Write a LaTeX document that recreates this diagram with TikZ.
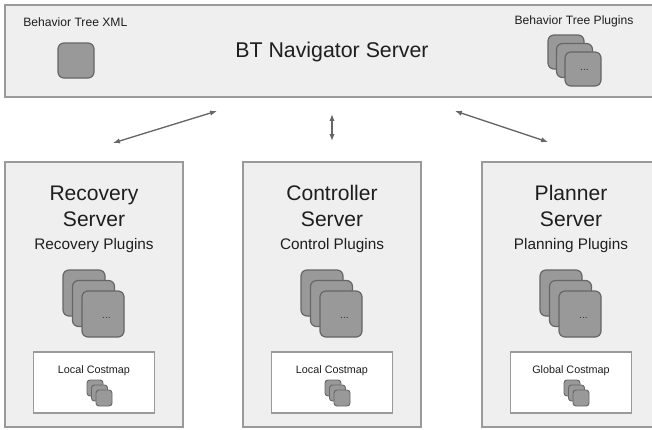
\documentclass[tikz,border=0pt]{standalone}
\usepackage{fontspec}
\setmainfont{Liberation Sans}
\usetikzlibrary{arrows.meta,fit}
\definecolor{panelfill}{HTML}{EFEFEF}
\definecolor{panelline}{HTML}{9A9A9A}
\definecolor{plugfill}{HTML}{999999}
\definecolor{plugline}{HTML}{666666}
\definecolor{arrowc}{HTML}{666666}
\definecolor{txt}{HTML}{1E1E1E}
\definecolor{dotc}{HTML}{333333}
\tikzset{
  panel/.style={draw=panelline, fill=panelfill, line width=0.8pt, inner sep=0pt},
  costbox/.style={draw=panelline, fill=white, line width=0.8pt, inner sep=0pt},
  plug/.style={draw=plugline, fill=plugfill, line width=0.9pt, rounded corners=4.5pt, inner sep=0pt},
  smallplug/.style={draw=plugline, fill=plugfill, line width=0.7pt, rounded corners=2.2pt, inner sep=0pt},
  dotlbl/.style={text=dotc, font=\fontsize{7.5}{8}\selectfont, inner sep=0pt},
  link/.style={draw=arrowc, line width=1pt, {Latex[length=5.2pt,width=4pt]}-{Latex[length=5.2pt,width=4pt]}},
  bigtitle/.style={text=txt, font=\fontsize{16}{19}\selectfont, inner sep=0pt},
  srvtitle/.style={text=txt, font=\fontsize{15.8}{19.5}\selectfont, align=center, inner sep=0pt},
  pluglbl/.style={text=txt, font=\fontsize{11.5}{13}\selectfont, inner sep=0pt},
  toplbl/.style={text=txt, font=\fontsize{9.1}{11}\selectfont, inner sep=0pt},
  costlbl/.style={text=txt, font=\fontsize{8.1}{10}\selectfont, inner sep=0pt},
}
% big plugin stack: prefix, top-left x, top-left y
\newcommand\mkbigstack[3]{%
  \foreach \i in {0,1,2}{%
    \node[plug, fit={({#2+\i*9.5},{#3+\i*10.5}) ({#2+\i*9.5+42},{#3+\i*10.5+46})}] (#1\i) {};
  }%
  \node[dotlbl] (#1dots) at ([shift={(25,28)}]#12.north west) {...};
}
% small plugin stack
\newcommand\mksmallstack[3]{%
  \foreach \i in {0,1,2}{%
    \node[smallplug, fit={({#2+\i*4.5},{#3+\i*5}) ({#2+\i*4.5+16},{#3+\i*5+16})}] (#1\i) {};
  }%
}
\begin{document}
\begin{tikzpicture}[x=0.75pt,y=-0.75pt]
\useasboundingbox (0,0) rectangle (652,429);
\clip (0,0) rectangle (652,429);

% top navigator panel
\node[panel, fit={(5,5) (662,97)}] (nav) {};
\node[toplbl, anchor=west] (xmllbl) at (23,22) {Behavior Tree XML};
\node[plug, fit={(58,43) (94,78)}] (xml) {};
\node[bigtitle] (navtitle) at (332,52) {BT Navigator Server};
\node[toplbl] (btplbl) at (574,21) {Behavior Tree Plugins};
\foreach \i in {0,1,2}{%
  \node[plug, fit={({548+\i*8.5},{35+\i*8.5}) ({548+\i*8.5+36},{35+\i*8.5+34})}] (btp\i) {};
}
\node[dotlbl] (btpdots) at ([shift={(20,19)}]btp2.north west) {...};

% recovery server
\node[panel, fit={(5,162) (183,427)}] (rec) {};
\node[srvtitle] (rectitle) at (94,206) {Recovery\\Server};
\node[pluglbl] (recplug) at (94,246) {Recovery Plugins};
\mkbigstack{recp}{63}{270}
\node[costbox, fit={(33.5,352) (154.5,413)}] (reccost) {};
\node[costlbl] (reccostlbl) at (94,371) {Local Costmap};
\mksmallstack{recs}{87}{380}

% controller server
\node[panel, fit={(243,162) (421,427)}] (ctl) {};
\node[srvtitle] (ctltitle) at (332,206) {Controller\\Server};
\node[pluglbl] (ctlplug) at (332,246) {Control Plugins};
\mkbigstack{ctlp}{301}{270}
\node[costbox, fit={(271.5,352) (392.5,413)}] (ctlcost) {};
\node[costlbl] (ctlcostlbl) at (332,371) {Local Costmap};
\mksmallstack{ctls}{325}{380}

% planner server
\node[panel, fit={(482,162) (660,427)}] (pln) {};
\node[srvtitle] (plntitle) at (571,206) {Planner\\Server};
\node[pluglbl] (plnplug) at (571,246) {Planning Plugins};
\mkbigstack{plnp}{540}{270}
\node[costbox, fit={(510.5,352) (631.5,413)}] (plncost) {};
\node[costlbl] (plncostlbl) at (571,371) {Global Costmap};
\mksmallstack{plns}{564}{380}

% connectors
\coordinate (la) at (113,143);
\coordinate (lb) at (217,111);
\coordinate (ma) at (332,114);
\coordinate (mb) at (332,141);
\coordinate (ra) at (455,111);
\coordinate (rb) at (548,142);
\draw[link] (la) -- (lb);
\draw[link] (ma) -- (mb);
\draw[link] (ra) -- (rb);
\end{tikzpicture}
\end{document}
